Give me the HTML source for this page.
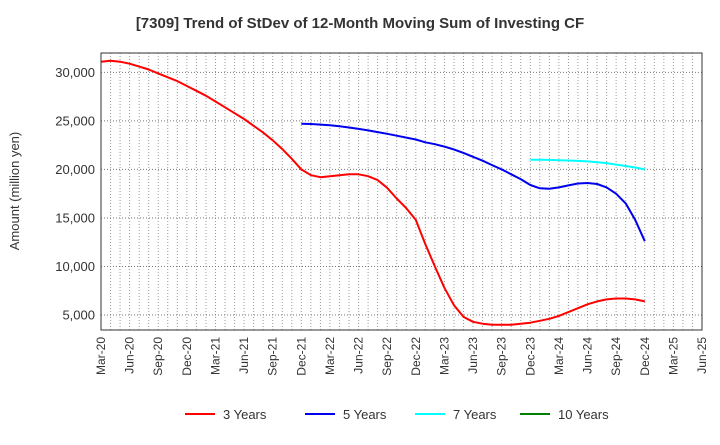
<!DOCTYPE html>
<html><head><meta charset="utf-8"><style>
body{margin:0;background:#fff;font-family:"Liberation Sans",Arial,sans-serif}
</style></head><body>
<svg width="720" height="440" xmlns="http://www.w3.org/2000/svg" id="c">
<text x="360" y="28" text-anchor="middle" font-size="15" font-weight="bold" fill="#333">[7309]  Trend of StDev of 12-Month Moving Sum of Investing CF</text>
<text transform="translate(19,191) rotate(-90)" text-anchor="middle" font-size="13" fill="#333">Amount (million yen)</text>
<g id="grid"></g>
<g id="series"></g>
<rect x="101" y="53" width="601" height="277" fill="none" stroke="#333" stroke-width="1"/>
<g id="ylab"></g>
<g id="xlab"></g>
<g id="legend"></g>
</svg>
<script>
const xLabels=["Mar-20","Jun-20","Sep-20","Dec-20","Mar-21","Jun-21","Sep-21","Dec-21","Mar-22","Jun-22","Sep-22","Dec-22","Mar-23","Jun-23","Sep-23","Dec-23","Mar-24","Jun-24","Sep-24","Dec-24","Mar-25","Jun-25"];
const yTicks=[5000,10000,15000,20000,25000,30000];
const s3Start=0;
const s3=[31100,31200,31100,30900,30600,30300,29900,29500,29100,28600,28100,27600,27000,26400,25800,25200,24500,23800,23000,22100,21100,20000,19400,19200,19300,19400,19500,19500,19300,18900,18100,17000,16000,14800,12300,10000,7800,6000,4800,4300,4100,4000,4000,4000,4100,4200,4400,4600,4900,5300,5700,6100,6400,6600,6700,6700,6600,6400];
const s5Start=21;
const s5=[24700,24680,24620,24550,24450,24320,24180,24020,23850,23670,23480,23280,23080,22800,22600,22350,22050,21700,21300,20900,20450,20000,19500,19000,18400,18050,18000,18150,18350,18550,18600,18500,18150,17500,16500,14800,12600];
const s7Start=45;
const s7=[21000,21000,20980,20950,20920,20880,20830,20750,20650,20500,20350,20200,20000];
const s10=[];
const NS="http://www.w3.org/2000/svg";
const X0=101,X1=702,Y0=53,Y1=330,YMIN=3450,YMAX=32000;
const nMonths=(xLabels.length-1)*3;
function xs(i){return X0+(X1-X0)*i/nMonths;}
function ys(v){return Y1-(v-YMIN)/(YMAX-YMIN)*(Y1-Y0);}
function mk(t,a,p){const e=document.createElementNS(NS,t);for(const k in a)e.setAttribute(k,a[k]);p.appendChild(e);return e;}
const grid=document.getElementById('grid');
for(let i=1;i<nMonths;i++){const l=mk('line',{x1:xs(i),x2:xs(i),y1:Y0,y2:Y1,stroke:'#999','stroke-dasharray':'1,2','stroke-width':1},grid);

}
const yl=document.getElementById('ylab');
yTicks.forEach(v=>{const l=mk('line',{x1:X0,x2:X1,y1:ys(v),y2:ys(v),stroke:'#777','stroke-dasharray':'1,2','stroke-width':1},grid);


const t=mk('text',{x:X0-6,y:ys(v)+4.5,'text-anchor':'end','font-size':13,fill:'#333'},yl);
t.textContent=v.toLocaleString('en-US');

});
const xl=document.getElementById('xlab');
xLabels.forEach((s,i)=>{const x=xs(i*3);const t=mk('text',{transform:`translate(${x+4},337) rotate(-90)`,'text-anchor':'end','font-size':12,fill:'#333'},xl);
t.textContent=s;

});
const sg=document.getElementById('series');
function draw(arr,start,color,name){if(!arr.length)return;const d=arr.map((v,i)=>(i?'L':'M')+xs(start+i).toFixed(1)+','+ys(v).toFixed(1)).join(' ');
const p=mk('path',{d:d,fill:'none',stroke:color,'stroke-width':2,'stroke-linejoin':'round'},sg);

}
draw(s3,s3Start,'#ff0000','line-3-years');
draw(s5,s5Start,'#0000ee','line-5-years');
draw(s7,s7Start,'#00ffff','line-7-years');
draw(s10,0,'#008000','line-10-years');
const lg=document.getElementById('legend');
[["3 Years","#ff0000",185],["5 Years","#0000ee",305],["7 Years","#00ffff",415],["10 Years","#008000",520]].forEach(([n,c,x])=>{
const g=mk('g',{},lg);


mk('line',{x1:x,x2:x+30,y1:414,y2:414,stroke:c,'stroke-width':2},g);
const t=mk('text',{x:x+38,y:419,'font-size':13,fill:'#333'},g);t.textContent=n;});
</script>
</body></html>
